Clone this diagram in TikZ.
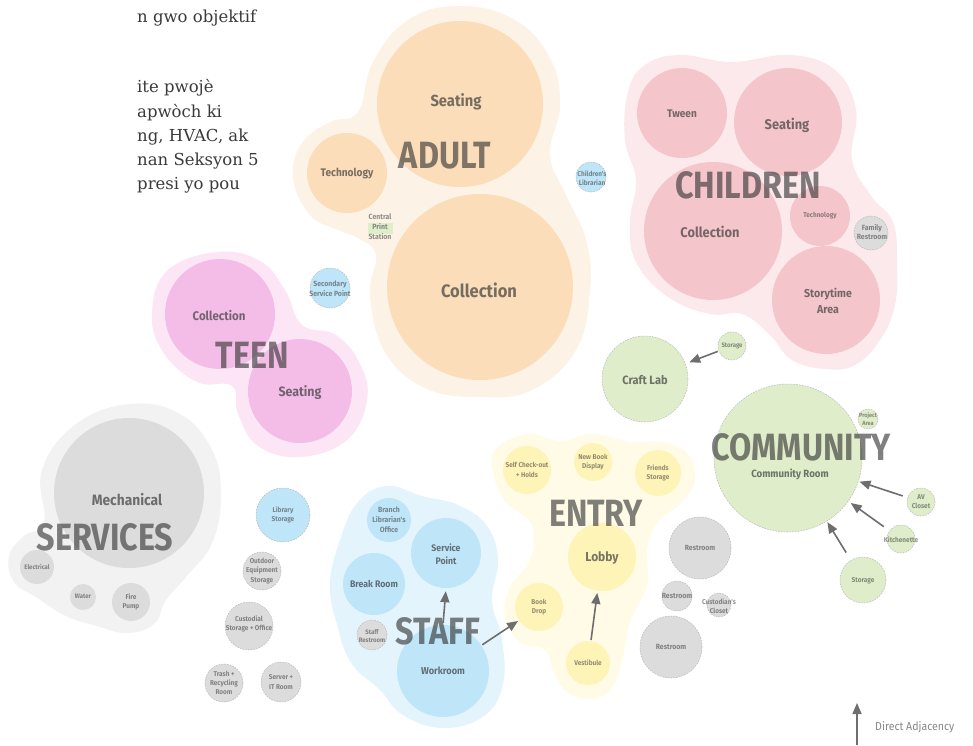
\documentclass[tikz,border=0pt]{standalone}
\usepackage{fontspec}
\setmainfont{DejaVu Serif}
\newfontfamily\lblfont{Fira Sans}[FakeStretch=0.92]
\newfontfamily\grpfont{Fira Sans}[FakeStretch=0.85]
\usetikzlibrary{arrows.meta}
\definecolor{adultC}{HTML}{FBDDB9}
\definecolor{adultB}{HTML}{FDF2E6}
\definecolor{childC}{HTML}{F4C6CB}
\definecolor{childB}{HTML}{FBE9EB}
\definecolor{teenC}{HTML}{F3BDE7}
\definecolor{teenB}{HTML}{FCE6F6}
\definecolor{servC}{HTML}{DCDCDC}
\definecolor{servB}{HTML}{F2F2F2}
\definecolor{blueC}{HTML}{BEE5F8}
\definecolor{blueB}{HTML}{E3F4FC}
\definecolor{yelC}{HTML}{FFF4B8}
\definecolor{yelB}{HTML}{FFFBE6}
\definecolor{greenC}{HTML}{DFEDCB}
\definecolor{arrowC}{HTML}{6E6E6E}
\definecolor{txtC}{HTML}{3A3A3A}
\definecolor{lblC}{HTML}{383838}
\newcommand{\setfs}[1]{\fontsize{#1}{\fpeval{#1*1.32}}\selectfont}
\tikzset{
  rm/.style={circle, inner sep=0pt, minimum size=#1},
  dsh/.style={draw=black!28, line width=0.5pt, dash pattern=on 1.6pt off 1.2pt},
  lbl/.style={text=lblC, text opacity=0.68, align=center, inner sep=0pt, font=\lblfont\bfseries\setfs{#1}},
  tny/.style={text=lblC, text opacity=0.55, align=center, inner sep=0pt, font=\lblfont\bfseries\setfs{#1}},
  grp/.style={text=black!80, text opacity=0.62, inner sep=0pt, font=\grpfont\bfseries\fontsize{38}{40}\selectfont},
  txt/.style={text=txtC, anchor=west, inner sep=0pt, font=\fontsize{16.5}{20}\selectfont},
  arr/.style={draw=arrowC, line width=1.6pt, -{Triangle[length=11pt,width=9pt]}},
  legtxt/.style={text=lblC, text opacity=0.6, anchor=west, inner sep=0pt, font=\lblfont\setfs{11.5}},
}
\begin{document}
\begin{tikzpicture}[x=1pt,y=-1pt]
\useasboundingbox (0,0) rectangle (973,745);
\fill[white] (0,0) rectangle (973,745);

% ---- top-left text fragment
\node[txt] (t1) at (137,18) {n gwo objektif};
\node[txt] (t2) at (137,88) {ite pwojè};
\node[txt] (t3) at (137,113) {apwòch ki};
\node[txt] (t4) at (137,137) {ng, HVAC, ak};
\node[txt] (t5) at (137,161) {nan Seksyon 5};
\node[txt] (t6) at (137,185) {presi yo pou};

% ---- group blobs
\fill[adultB] plot[smooth cycle, tension=0.7] coordinates {(460,6) (515,20) (550,58) (560,105) (550,155) (566,195) (586,240) (590,290) (576,350) (532,390) (480,397) (425,388) (385,352) (370,295) (376,255) (358,238) (338,230) (310,215) (293,178) (302,143) (330,122) (358,112) (373,62) (408,20)};
\fill[childB] plot[smooth cycle, tension=0.7] coordinates {(680,55) (732,62) (790,55) (835,70) (856,110) (852,160) (872,197) (893,222) (897,262) (895,305) (880,340) (855,365) (826,369) (792,360) (770,335) (742,314) (710,314) (668,297) (636,262) (630,222) (636,180) (625,140) (628,92) (645,65)};
\fill[teenB] plot[smooth cycle, tension=0.7] coordinates {(218,252) (260,261) (285,290) (302,325) (336,335) (360,364) (367,400) (347,440) (300,457) (258,446) (238,414) (232,386) (197,382) (163,352) (152,312) (168,270)};
\fill[servB] plot[smooth cycle, tension=0.7] coordinates {(130,404) (180,414) (212,450) (221,495) (212,543) (186,577) (166,600) (154,624) (127,633) (97,626) (66,616) (36,597) (14,582) (9,556) (24,536) (44,522) (42,470) (76,424)};
\fill[blueB] plot[smooth cycle, tension=0.7] coordinates {(387,486) (422,496) (458,505) (487,526) (498,560) (492,600) (502,640) (503,684) (484,716) (443,728) (403,715) (380,690) (352,664) (338,628) (330,585) (340,540) (358,502)};
\fill[yelB] plot[smooth cycle, tension=0.7] coordinates {(495,450) (527,434) (560,441) (593,434) (630,442) (660,442) (686,452) (695,478) (682,502) (658,522) (647,550) (647,585) (630,622) (622,660) (610,690) (588,699) (566,691) (553,670) (545,650) (520,642) (505,617) (510,587) (530,560) (532,525) (506,502) (494,476)};

% ---- ADULT
\node[rm=166pt, fill=adultC] (aSeat) at (460,104) {};
\node[rm=80pt, fill=adultC] (aTech) at (347,173) {};
\node[rm=186pt, fill=adultC] (aColl) at (480,287) {};
\node[fill=greenC, minimum width=25pt, minimum height=11pt, inner sep=0pt] (cpsBox) at (380,228) {};
\node[lbl=16] (aSeatL) at (456,102) {Seating};
\node[lbl=11] (aTechL) at (347,174) {Technology};
\node[lbl=18] (aCollL) at (479,290) {Collection};
\node[tny=7.5] (cpsL) at (380,227) {Central\\Print\\Station};
\node[grp] (adultL) at (445,156) {ADULT};

% ---- CHILDREN
\node[rm=90pt, fill=childC] (cTween) at (682,113) {};
\node[rm=108pt, fill=childC] (cSeat) at (788,122) {};
\node[rm=138pt, fill=childC] (cColl) at (713,231) {};
\node[rm=60pt, fill=childC] (cTech) at (820,216) {};
\node[rm=108pt, fill=childC] (cStory) at (826,300) {};
\node[rm=34pt, fill=servC, dsh] (cFam) at (871,233) {};
\node[lbl=11] (cTweenL) at (682,114) {Tween};
\node[lbl=14] (cSeatL) at (787,125) {Seating};
\node[lbl=14] (cCollL) at (710,232) {Collection};
\node[tny=7] (cTechL) at (820,216) {Technology};
\node[tny=7.5] (cFamL) at (872,232) {Family\\Restroom};
\node[lbl=11.5] (cStoryL) at (828,301) {Storytime\\Area};
\node[grp] (childL) at (748,185) {CHILDREN};

% ---- Children's Librarian
\node[rm=30pt, fill=blueC, dsh] (cLib) at (591,177) {};
\node[tny=7] (cLibL) at (592,178) {Children's\\Librarian};

% ---- TEEN
\node[rm=110pt, fill=teenC] (tColl) at (220,314) {};
\node[rm=104pt, fill=teenC] (tSeat) at (300,391) {};
\node[lbl=12.5] (tCollL) at (219,316) {Collection};
\node[lbl=13.5] (tSeatL) at (300,393) {Seating};
\node[grp] (teenL) at (252,355) {TEEN};

% ---- Secondary service point
\node[rm=40pt, fill=blueC, dsh] (ssp) at (330,288) {};
\node[tny=7.5] (sspL) at (330,289) {Secondary\\Service Point};

% ---- SERVICES
\node[rm=150pt, fill=servC] (sMech) at (129,493) {};
\node[rm=34pt, fill=servC] (sElec) at (37,567) {};
\node[rm=26pt, fill=servC] (sWater) at (83,597) {};
\node[rm=38pt, fill=servC] (sFire) at (131,602) {};
\node[lbl=15] (sMechL) at (127,500) {Mechanical};
\node[tny=6.5] (sElecL) at (37,567) {Electrical};
\node[tny=6.5] (sWaterL) at (83,596) {Water};
\node[tny=7] (sFireL) at (131,602) {Fire\\Pump};
\node[grp] (servL) at (105,537) {SERVICES};

% ---- standalone support spaces
\node[rm=54pt, fill=blueC, dsh] (libSt) at (283,515) {};
\node[rm=38pt, fill=servC, dsh] (outSt) at (262,571) {};
\node[rm=48pt, fill=servC, dsh] (custSt) at (249,626) {};
\node[rm=38pt, fill=servC, dsh] (trash) at (224,683) {};
\node[rm=40pt, fill=servC, dsh] (server) at (281,682) {};
\node[tny=7] (libStL) at (283,515) {Library\\Storage};
\node[tny=7] (outStL) at (262,571) {Outdoor\\Equipment\\Storage};
\node[tny=7] (custStL) at (249,624) {Custodial\\Storage + Office};
\node[tny=7] (trashL) at (224,683) {Trash +\\Recycling\\Room};
\node[tny=7] (serverL) at (281,682) {Server +\\IT Room};

% ---- STAFF
\node[rm=44pt, fill=blueC] (stBranch) at (389,520) {};
\node[rm=70pt, fill=blueC] (stSP) at (446,553) {};
\node[rm=62pt, fill=blueC] (stBreak) at (374,584) {};
\node[rm=30pt, fill=servC, dsh] (stRest) at (372,635) {};
\node[rm=92pt, fill=blueC] (stWork) at (443,671) {};
\node[tny=7.5] (stBranchL) at (389,520) {Branch\\Librarian's\\Office};
\node[lbl=9.5] (stSPL) at (446,554) {Service\\Point};
\node[lbl=9.5] (stBreakL) at (374,584) {Break Room};
\node[tny=6.5] (stRestL) at (372,636) {Staff\\Restroom};
\node[lbl=10] (stWorkL) at (443,671) {Workroom};
\node[grp] (staffL) at (438,631) {STAFF};

% ---- ENTRY
\node[rm=48pt, fill=yelC] (eSelf) at (527,470) {};
\node[rm=38pt, fill=yelC] (eNew) at (593,462) {};
\node[rm=46pt, fill=yelC] (eFriends) at (658,473) {};
\node[rm=68pt, fill=yelC] (eLobby) at (602,557) {};
\node[rm=48pt, fill=yelC] (eBook) at (539,607) {};
\node[rm=44pt, fill=yelC] (eVest) at (588,663) {};
\node[tny=7] (eSelfL) at (527,470) {Self Check-out\\+ Holds};
\node[tny=7] (eNewL) at (593,462) {New Book\\Display};
\node[tny=7] (eFriendsL) at (658,473) {Friends\\Storage};
\node[lbl=13] (eLobbyL) at (602,558) {Lobby};
\node[tny=7] (eBookL) at (539,607) {Book\\Drop};
\node[tny=7] (eVestL) at (588,663) {Vestibule};
\node[grp] (entryL) at (596,513) {ENTRY};

% ---- restrooms
\node[rm=62pt, fill=servC, dsh] (rr1) at (700,548) {};
\node[rm=30pt, fill=servC, dsh] (rr2) at (677,596) {};
\node[rm=24pt, fill=servC, dsh] (custCl) at (719,605) {};
\node[rm=62pt, fill=servC, dsh] (rr3) at (671,647) {};
\node[tny=7.5] (rr1L) at (700,548) {Restroom};
\node[tny=7.5] (rr2L) at (677,596) {Restroom};
\node[tny=7] (custClL) at (719,606) {Custodian's\\Closet};
\node[tny=7.5] (rr3L) at (671,647) {Restroom};

% ---- COMMUNITY
\node[rm=86pt, fill=greenC, dsh] (craft) at (645,379) {};
\node[rm=28pt, fill=greenC, dsh] (stor1) at (732,346) {};
\node[rm=148pt, fill=greenC, dsh] (comRoom) at (788,458) {};
\node[rm=20pt, fill=greenC, dsh] (proj) at (868,419) {};
\node[rm=28pt, fill=greenC, dsh] (av) at (921,502) {};
\node[rm=28pt, fill=greenC, dsh] (kitch) at (901,539) {};
\node[rm=46pt, fill=greenC, dsh] (stor2) at (863,580) {};
\node[lbl=12] (craftL) at (645,380) {Craft Lab};
\node[tny=6.5] (stor1L) at (732,346) {Storage};
\node[lbl=10.5] (comRoomL) at (790,474) {Community Room};
\node[tny=6] (projL) at (868,419) {Project\\Area};
\node[tny=7] (avL) at (921,502) {AV\\Closet};
\node[tny=7] (kitchL) at (901,540) {Kitchenette};
\node[tny=7] (stor2L) at (863,581) {Storage};
\node[grp] (comL) at (801,447) {COMMUNITY};

% ---- adjacency arrows
\draw[arr, shorten <=2pt, shorten >=3pt] (stWork.north) -- (stSP.south);
\draw[arr, shorten <=1pt, shorten >=1pt] (stWork) -- (eBook);
\draw[arr, shorten <=1pt, shorten >=2pt] (eVest) -- (eLobby);
\draw[arr, shorten <=1pt, shorten >=4pt] (stor1) -- (craft);
\draw[arr, shorten <=5pt, shorten >=1pt] (av) -- (comRoom);
\draw[arr, shorten <=7pt, shorten >=3pt] (kitch) -- (comRoom);
\draw[arr, shorten <=9pt, shorten >=1pt] (stor2) -- (comRoom);

% ---- legend
\coordinate (legS) at (857,745);
\coordinate (legE) at (857,703);
\draw[arr] (legS) -- (legE);
\node[legtxt] (legL) at (875,727) {Direct Adjacency};
\end{tikzpicture}
\end{document}
